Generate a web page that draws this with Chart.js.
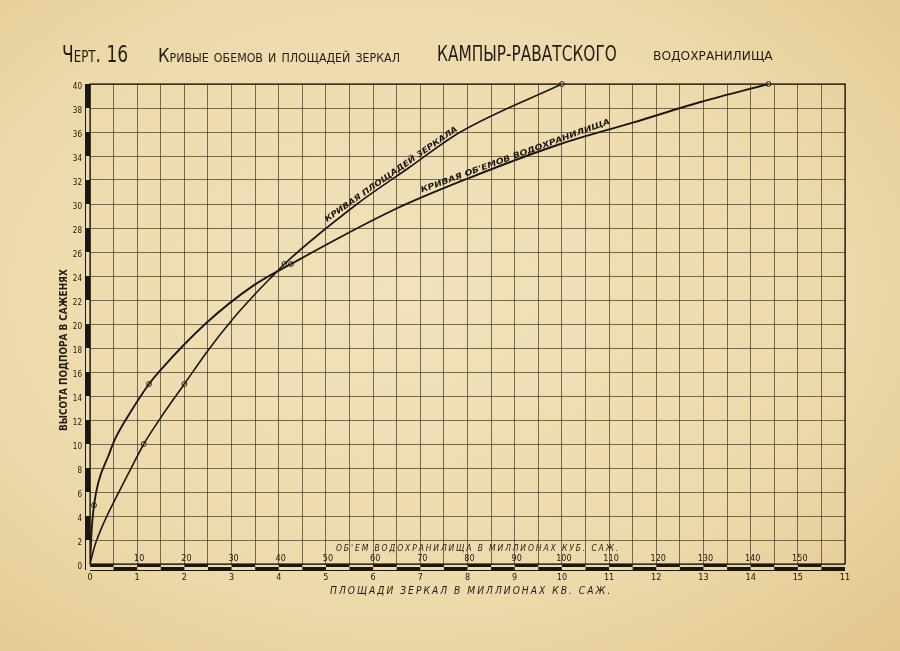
<!DOCTYPE html>
<html>
<head>
<meta charset="utf-8">
<script src="https://cdn.jsdelivr.net/npm/chart.js@4.4.1/dist/chart.umd.min.js"></script>
<style>
html, body { margin: 0; padding: 0; }
body {
    width: 900px; height: 651px; overflow: hidden;
    background: radial-gradient(ellipse at 45% 45%, #f1e2ba 0%, #eddaab 60%, #e1c68c 100%);
}
#wrap { position: relative; width: 900px; height: 651px; }
canvas { position: absolute; left: 0; top: 0; }
.t {
    position: absolute; white-space: nowrap; color: #221c13; line-height: 1;
    transform-origin: 0 0;
    font-family: "DejaVu Sans Condensed", "Liberation Sans Narrow", sans-serif;
}
.it { font-style: italic; letter-spacing: 2px; }
</style>
</head>
<body>
<div id="wrap">
    <canvas id="chart" width="900" height="651"></canvas>

    <div class="t fit" data-w="66" style="left:62px; top:43px; font-size:23px; font-variant:small-caps;">Черт. 16</div>
    <div class="t fit" data-w="242" style="left:158px; top:46px; font-size:19px; font-variant:small-caps;">Кривые обемов и площадей зеркал</div>
    <div class="t fit" data-w="180" style="left:437px; top:43px; font-size:22px;">КАМПЫР-РАВАТСКОГО</div>
    <div class="t fit" data-w="120" style="left:653px; top:46px; font-size:17px; font-variant:small-caps;">водохранилища</div>

    <div class="t fit" data-w="162" data-pre="rotate(-90deg)" style="left:59px; top:431px; font-size:10px; font-weight:bold;">ВЫСОТА ПОДПОРА В САЖЕНЯХ</div>
    <div class="t fit it" data-w="282" style="left:330px; top:586px; font-size:10px;">ПЛОЩАДИ ЗЕРКАЛ В МИЛЛИОНАХ КВ. САЖ.</div>
    <div class="t fit it" data-w="284" style="left:336px; top:544px; font-size:9px;">ОБ'ЕМ ВОДОХРАНИЛИЩА В МИЛЛИОНАХ КУБ. САЖ.</div>
</div>

<script>
// area curve: million sq. sazhen vs. height in sazhen
const areaA = [0, 0.1, 0.3, 0.6, 0.9, 1.14, 1.5, 2.0, 2.5, 3.0, 3.5, 3.92, 4.12, 5.66, 6.75, 7.85, 10.0];
const areaH = [0, 1.5, 3.5, 5.9, 8.2, 10, 12.2, 15, 17.8, 20.3, 22.5, 24.2, 25, 30, 33, 36, 40];

// volume curve: million cubic sazhen vs. height
const volV = [0, 0.36, 0.85, 1.76, 3.88, 5.3, 8.5, 12.5, 14.8, 24.7, 34.6, 42.6, 64.3, 79.9, 99.7, 115.2, 129.4, 143.8];
const volH = [0, 2.9, 4.9, 6.8, 9, 10.4, 12.6, 15, 16.1, 20.1, 23.2, 25, 29.5, 32.1, 35, 36.8, 38.5, 40];

// small circles drawn on the curves
const areaMarkA = [1.14, 2.0, 4.12, 10.0];
const areaMarkH = [10, 15, 25, 40];
const volMarkV = [0.85, 12.5, 42.6, 143.8];
const volMarkH = [4.9, 15, 25, 40];

// tick labels (the last one is printed "11" on the original)
const areaTickLabels = ['0', '1', '2', '3', '4', '5', '6', '7', '8', '9', '10', '11', '12', '13', '14', '15', '11'];
const volTickValues = [10, 20, 30, 40, 50, 60, 70, 80, 90, 100, 110, 120, 130, 140, 150];

const INK = '#1b1710';
const GRID = 'rgba(50, 43, 30, 0.72)';
const FONT = '"DejaVu Sans Condensed", "DejaVu Sans", sans-serif';

const pts = (xs, ys) => xs.map((x, i) => ({ x: x, y: ys[i] }));

// write text along a straight line between two data points
function drawAlong(ctx, text, sx, sy, from, to) {
    const x0 = sx.getPixelForValue(from[0]), y0 = sy.getPixelForValue(from[1]);
    const x1 = sx.getPixelForValue(to[0]), y1 = sy.getPixelForValue(to[1]);
    const len = Math.hypot(x1 - x0, y1 - y0);
    ctx.save();
    ctx.translate(x0, y0);
    ctx.rotate(Math.atan2(y1 - y0, x1 - x0));
    ctx.font = 'italic bold 8px ' + FONT;
    const w = ctx.measureText(text).width;
    ctx.scale(len / w, 1);
    ctx.textAlign = 'left';
    ctx.textBaseline = 'alphabetic';
    ctx.fillText(text, 0, 0);
    ctx.restore();
}

const paper = {
    id: 'paper',
    afterDatasetsDraw(chart) {
        const { ctx, chartArea: a, scales: { x, xv, y } } = chart;
        ctx.save();
        ctx.fillStyle = INK;
        ctx.strokeStyle = INK;

        // frame
        ctx.lineWidth = 1.2;
        ctx.strokeRect(a.left, a.top, a.right - a.left, a.bottom - a.top);

        // bottom scale bar, half units alternating up and down
        for (let i = 0; i < 32; i++) {
            const x0 = x.getPixelForValue(i / 2), x1 = x.getPixelForValue(i / 2 + 0.5);
            ctx.fillRect(x0, a.bottom + (i % 2 ? 3 : 0), x1 - x0, 3);
        }
        ctx.lineWidth = 1;
        ctx.beginPath();
        ctx.moveTo(a.left, a.bottom + 6.5);
        ctx.lineTo(a.right, a.bottom + 6.5);
        ctx.stroke();

        // left scale bar
        for (let v = 2; v < 40; v += 4) {
            const y0 = y.getPixelForValue(v + 2), y1 = y.getPixelForValue(v);
            ctx.fillRect(a.left - 4, y0, 4, y1 - y0);
        }
        ctx.beginPath();
        ctx.moveTo(a.left - 4.5, a.top);
        ctx.lineTo(a.left - 4.5, a.bottom + 6);
        ctx.stroke();

        // volume scale labels above the bar
        ctx.font = '9px ' + FONT;
        ctx.textAlign = 'center';
        ctx.textBaseline = 'bottom';
        volTickValues.forEach(v => ctx.fillText(String(v), xv.getPixelForValue(v) + 2, a.bottom - 1));

        // curve names
        drawAlong(ctx, 'КРИВАЯ ПЛОЩАДЕЙ ЗЕРКАЛА', x, y, [5.02, 28.5], [7.8, 36.15]);
        drawAlong(ctx, "КРИВАЯ ОБ'ЕМОВ ВОДОХРАНИЛИЩА", xv, y, [70.3, 30.95], [110.3, 36.7]);

        ctx.restore();
    }
};

const curve = {
    showLine: true, fill: false, borderColor: INK, pointRadius: 0,
    cubicInterpolationMode: 'monotone'
};
const marks = {
    showLine: false, pointRadius: 2.4, pointBackgroundColor: '#f3e6c2',
    pointBorderColor: INK, pointBorderWidth: 1, clip: false
};

new Chart(document.getElementById('chart'), {
    type: 'scatter',
    data: {
        datasets: [
            { ...curve, label: 'area', data: pts(areaA, areaH), xAxisID: 'x', borderWidth: 1.6 },
            { ...curve, label: 'volume', data: pts(volV, volH), xAxisID: 'xv', borderWidth: 1.9 },
            { ...marks, label: 'area marks', data: pts(areaMarkA, areaMarkH), xAxisID: 'x' },
            { ...marks, label: 'volume marks', data: pts(volMarkV, volMarkH), xAxisID: 'xv' }
        ]
    },
    options: {
        responsive: false,
        animation: false,
        devicePixelRatio: 1,
        layout: { padding: { top: 84, right: 55, left: 0, bottom: 0 } },
        plugins: { legend: { display: false }, tooltip: { enabled: false } },
        scales: {
            x: {
                type: 'linear', position: 'bottom', min: 0, max: 16,
                afterFit(s) { s.height = 87; },
                border: { display: false },
                grid: { color: GRID, lineWidth: 0.9, drawTicks: false },
                ticks: {
                    stepSize: 0.5, maxTicksLimit: 100, autoSkip: false, maxRotation: 0,
                    padding: 8, color: INK, font: { size: 9, family: FONT },
                    callback: v => Number.isInteger(v) ? areaTickLabels[v] : ''
                }
            },
            xv: { type: 'linear', position: 'bottom', min: 0, max: 160, display: false },
            y: {
                min: 0, max: 40,
                afterFit(s) { s.width = 90; },
                border: { display: false },
                grid: { color: GRID, lineWidth: 0.9, drawTicks: false },
                ticks: {
                    stepSize: 2, padding: 8, labelOffset: 3, color: INK,
                    font: { size: 8, family: FONT }
                }
            }
        }
    },
    plugins: [paper]
});

// stretch the hand-lettered texts to their widths on the sheet
document.querySelectorAll('.fit').forEach(el => {
    const k = el.dataset.w / el.offsetWidth;
    el.style.transform = (el.dataset.pre || '') + ' scaleX(' + k + ')';
});
</script>
</body>
</html>
